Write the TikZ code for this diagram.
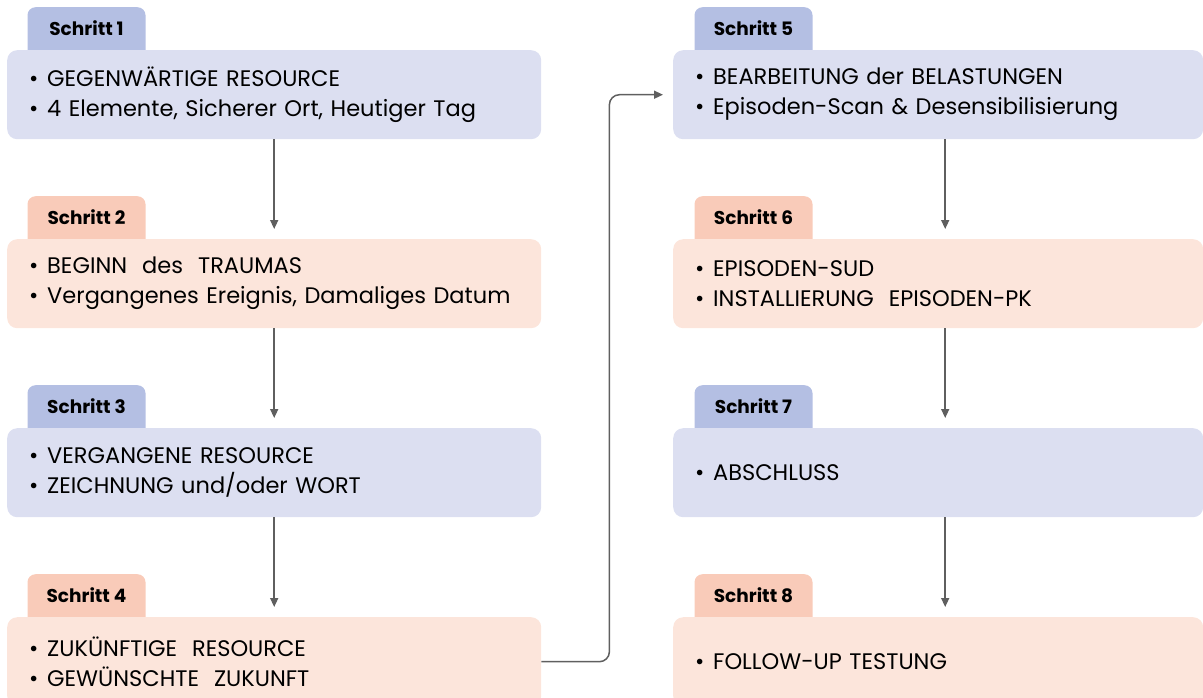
\documentclass[tikz,border=0pt]{standalone}
\usepackage{fontspec}
\setmainfont{Poppins}
\usetikzlibrary{arrows.meta}

\definecolor{tabblau}{HTML}{B4BFE3}
\definecolor{boxblau}{HTML}{DCDFF1}
\definecolor{tabrosa}{HTML}{F9CBB9}
\definecolor{boxrosa}{HTML}{FCE5DB}
\definecolor{pfeil}{HTML}{5F5F5F}

% bullet with a fixed gap before the text
\newcommand{\pkt}{\makebox[18pt][l]{\textbullet}}

\begin{document}
\begin{tikzpicture}[x=1pt,y=-1pt,>={Triangle[length=9pt,width=8pt]},
  tab/.style={rounded corners=8pt,minimum width=118pt,minimum height=55pt,anchor=north,
    text height=13pt,text depth=12pt,inner sep=0pt,font=\fontsize{18.5}{20}\selectfont\bfseries},
  box/.style={rounded corners=10pt,anchor=north west,minimum height=89pt,text width=490pt,
    inner xsep=22pt,align=left,font=\fontsize{22.5}{30}\selectfont},
  rbox/.style={box,text width=486pt},
  pf/.style={->,draw=pfeil,line width=1.5pt}]
  \useasboundingbox (0,0) rectangle (1203,697);
  \clip (0,0) rectangle (1203,697);

  % linke Spalte
  \node[tab,fill=tabblau] (t1) at (86.5,7) {Schritt 1};
  \node[box,fill=boxblau] (b1) at (7,50) {\pkt GEGENWÄRTIGE RESOURCE\\\pkt 4 Elemente, Sicherer Ort, Heutiger Tag};
  \node[tab,fill=tabrosa] (t2) at (86.5,196) {Schritt 2};
  \node[box,fill=boxrosa] (b2) at (7,239) {\pkt BEGINN\ \ des\ \ TRAUMAS\\\pkt Vergangenes Ereignis, Damaliges Datum};
  \node[tab,fill=tabblau] (t3) at (86.5,385) {Schritt 3};
  \node[box,fill=boxblau] (b3) at (7,428) {\pkt VERGANGENE RESOURCE\\\pkt ZEICHNUNG und/oder WORT};
  \node[tab,fill=tabrosa] (t4) at (86.5,574) {Schritt 4};
  \node[box,fill=boxrosa] (b4) at (7,617) {\pkt ZUKÜNFTIGE\ \ RESOURCE\\\pkt GEWÜNSCHTE\ \ ZUKUNFT};

  % rechte Spalte
  \node[tab,fill=tabblau] (t5) at (753.5,7) {Schritt 5};
  \node[rbox,fill=boxblau] (b5) at (673,50) {\pkt BEARBEITUNG der BELASTUNGEN\\\pkt Episoden-Scan \& Desensibilisierung};
  \node[tab,fill=tabrosa] (t6) at (753.5,196) {Schritt 6};
  \node[rbox,fill=boxrosa] (b6) at (673,239) {\pkt EPISODEN-SUD\\\pkt INSTALLIERUNG\ \ EPISODEN-PK};
  \node[tab,fill=tabblau] (t7) at (753.5,385) {Schritt 7};
  \node[rbox,fill=boxblau] (b7) at (673,428) {\pkt ABSCHLUSS};
  \node[tab,fill=tabrosa] (t8) at (753.5,574) {Schritt 8};
  \node[rbox,fill=boxrosa] (b8) at (673,617) {\pkt FOLLOW-UP TESTUNG};

  % Pfeile
  \draw[pf] (b1.south) -- ([yshift=10pt]b2.north);
  \draw[pf] (b2.south) -- ([yshift=10pt]b3.north);
  \draw[pf] (b3.south) -- ([yshift=10pt]b4.north);
  \draw[pf,rounded corners=10pt] (b4.east) -- ++(68,0) |- ([xshift=-10pt]b5.west);
  \draw[pf] ([xshift=7pt]b5.south) -- ([xshift=7pt,yshift=10pt]b6.north);
  \draw[pf] ([xshift=7pt]b6.south) -- ([xshift=7pt,yshift=10pt]b7.north);
  \draw[pf] ([xshift=7pt]b7.south) -- ([xshift=7pt,yshift=10pt]b8.north);
\end{tikzpicture}
\end{document}
